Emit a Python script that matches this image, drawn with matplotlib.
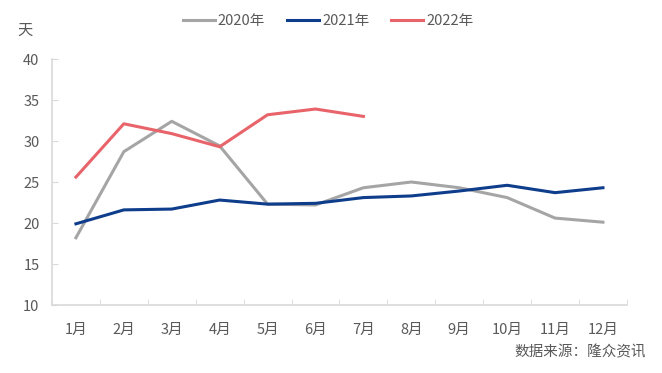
import numpy as np
import matplotlib
matplotlib.use("Agg")
import matplotlib.pyplot as plt

plt.rcParams['font.family'] = ['Noto Sans CJK SC', 'DejaVu Sans']

months = ['1月', '2月', '3月', '4月', '5月', '6月', '7月', '8月', '9月', '10月', '11月', '12月']
y2020 = [18.2, 28.7, 32.4, 29.4, 22.3, 22.2, 24.3, 25.0, 24.3, 23.1, 20.6, 20.1]
y2021 = [19.9, 21.6, 21.7, 22.8, 22.3, 22.4, 23.1, 23.3, 23.9, 24.6, 23.7, 24.3]
y2022 = [25.6, 32.1, 30.9, 29.3, 33.2, 33.9, 33.0]

text_col = '#595959'
axis_col = '#D9D9D9'

fig = plt.figure(figsize=(6.62, 3.73), dpi=100)
ax = fig.add_axes([0.0785, 0.1823, 0.8685, 0.6595])

x = np.arange(len(months))
ax.plot(x, y2020, color='#A5A5A5', lw=2.2, label='2020年')
ax.plot(x, y2021, color='#0E3D8C', lw=2.2, label='2021年')
ax.plot(np.arange(len(y2022)), y2022, color='#E8646A', lw=2.2, label='2022年')

ax.set_xlim(-0.5, 11.5)
ax.set_ylim(10, 40)
ax.set_yticks(np.arange(10, 41, 5))
ax.set_xticks(x)
ax.set_xticklabels(months)
ax.set_xticks(np.arange(-0.5, 12, 1), minor=True)
ax.tick_params(axis='x', which='major', length=0, pad=13, labelsize=10.5, colors=text_col)
ax.tick_params(axis='x', which='minor', length=4, color=axis_col, direction='in')
ax.tick_params(axis='y', length=4, color=axis_col, direction='in', labelsize=10.5,
               colors=text_col, pad=9)

for s in ['top', 'right']:
    ax.spines[s].set_visible(False)
for s in ['left', 'bottom']:
    ax.spines[s].set_color(axis_col)
    ax.spines[s].set_linewidth(1.2)

fig.text(25 / 662, 1 - 30 / 373, '天', color=text_col, fontsize=11, ha='center', va='center')
fig.text(646 / 662, 1 - 352 / 373, '数据来源：隆众资讯', color=text_col, fontsize=10.5,
         ha='right', va='center')

leg = fig.legend(loc='center', bbox_to_anchor=(328 / 662, 1 - 21 / 373), ncol=3,
                 frameon=False, fontsize=10.5, handlelength=2.2, columnspacing=1.5,
                 handletextpad=0.2)
for t in leg.get_texts():
    t.set_color(text_col)

fig.savefig('out.png', dpi=100)
